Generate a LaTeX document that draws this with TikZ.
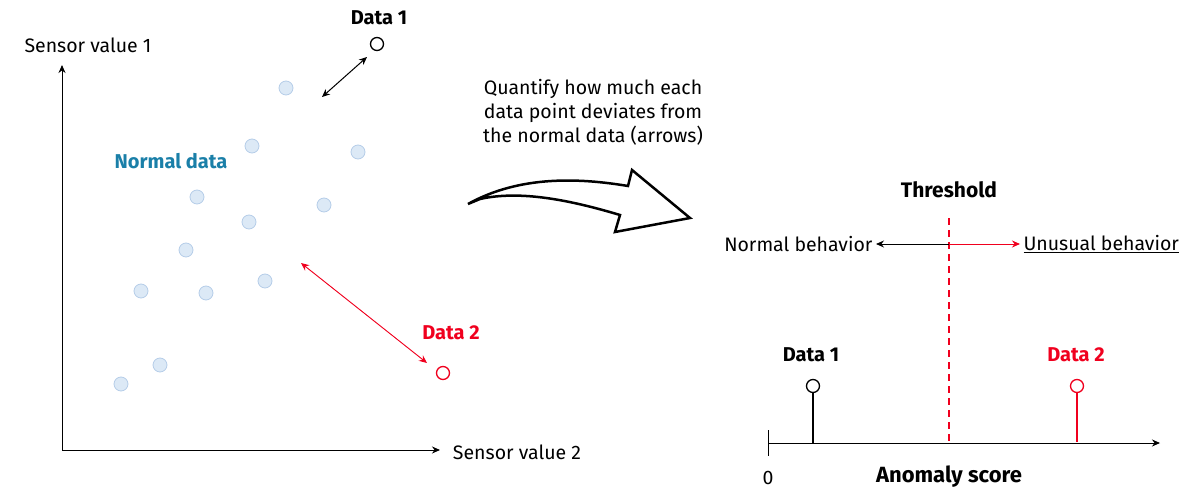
\documentclass[tikz,border=0pt]{standalone}
\usepackage{fontspec}
\setmainfont{Fira Sans}
\usetikzlibrary{arrows.meta}
\definecolor{dotf}{HTML}{DCE9F6}
\definecolor{dotd}{HTML}{B5CDE8}
\definecolor{tealc}{HTML}{1A7FA8}
\definecolor{myred}{HTML}{F0001E}
\begin{document}
\begin{tikzpicture}[x=1pt,y=-1pt,
  dot/.style={circle,draw=dotd,fill=dotf,line width=0.8pt,minimum size=14pt,inner sep=0pt},
  pt/.style={circle,draw=#1,fill=white,line width=1.3pt,minimum size=13pt,inner sep=0pt},
  lbl/.style={font=\fontsize{19.5}{24}\selectfont},
  blbl/.style={font=\fontsize{20}{23}\selectfont\bfseries},
  arr/.style={-{Stealth[length=8pt,width=7pt]},line width=1pt}]
\useasboundingbox (0,0) rectangle (1200,500);
% left plot
\coordinate (o) at (62,450);
\coordinate (yend) at (62,65);
\coordinate (xend) at (440,450);
\draw[arr] (o) -- (yend);
\draw[arr] (o) -- (xend);
\node[lbl] (sv1) at (88,45) {Sensor value 1};
\node[lbl] (sv2) at (517,452) {Sensor value 2};
\foreach \i/\x/\y in {1/286/88,2/252/146,3/358/152,4/197/197,5/249/222,6/324/205,7/186/250,8/265/281,9/141/291,10/206/293,11/160/365,12/121/384}
  \node[dot] (d\i) at (\x,\y) {};
\node[blbl,text=tealc] (nd) at (171,161) {Normal data};
\node[pt=black] (p1) at (377,44) {};
\node[blbl] (p1l) at (379,18) {Data 1};
\node[pt=myred] (p2) at (443,373) {};
\node[blbl,text=myred] (p2l) at (451,333) {Data 2};
\coordinate (a1) at (322,97); \coordinate (a1b) at (367,57);
\draw[{Stealth[length=8pt,width=7pt]}-{Stealth[length=8pt,width=7pt]},line width=1pt] (a1) -- (a1b);
\coordinate (a2) at (301,263); \coordinate (a2b) at (427,363);
\draw[{Stealth[length=8pt,width=7pt]}-{Stealth[length=8pt,width=7pt]},line width=0.9pt,draw=myred,fill=myred] (a2) -- (a2b);
% middle
\node[lbl,align=center] (q) at (593,112) {Quantify how much each\\data point deviates from\\the normal data (arrows)};
\draw[line width=2.5pt,line join=miter,fill=white]
  (468,204) .. controls (520,175) and (580,178) .. (628,186)
  -- (632,170) -- (690,218) -- (615,232) -- (620,215)
  .. controls (570,200) and (520,190) .. (480,199) -- cycle;
% right
\node[font=\fontsize{21}{24}\selectfont\bfseries] (th) at (949,190) {Threshold};
\coordinate (t0) at (949,218); \coordinate (t1) at (949,443);
\draw[draw=myred,line width=1.3pt,dash pattern=on 7pt off 5pt] (t0) -- (t1);
\coordinate (tm) at (949,244);
\node[lbl,anchor=east] (nb) at (876,244) {Normal behavior};
\node[lbl,anchor=west] (ub) at (1020,244) {\underline{Unusual behavior}};
\draw[arr] (tm) -- (nb.east);
\draw[arr,draw=myred,fill=myred] (tm) -- (ub.west);
\coordinate (s0) at (768,443); \coordinate (s1) at (1160,443);
\draw[arr] (s0) -- (s1);
\coordinate (tk0) at (768,430); \coordinate (tk1) at (768,456);
\draw[line width=1pt] (tk0) -- (tk1);
\node[lbl] (zero) at (768,478) {0};
\node[font=\fontsize{22}{24}\selectfont\bfseries] (as) at (949,477) {Anomaly score};
\node[pt=black] (q1) at (813,386) {};
\coordinate (q1b) at (813,443);
\draw[line width=1.2pt] (q1) -- (q1b);
\node[blbl] (q1l) at (811,355) {Data 1};
\node[pt=myred] (q2) at (1077,386) {};
\coordinate (q2b) at (1077,442);
\draw[line width=1.4pt,draw=myred] (q2.south) -- (q2b);
\node[blbl,text=myred] (q2l) at (1076,355) {Data 2};
\end{tikzpicture}
\end{document}
